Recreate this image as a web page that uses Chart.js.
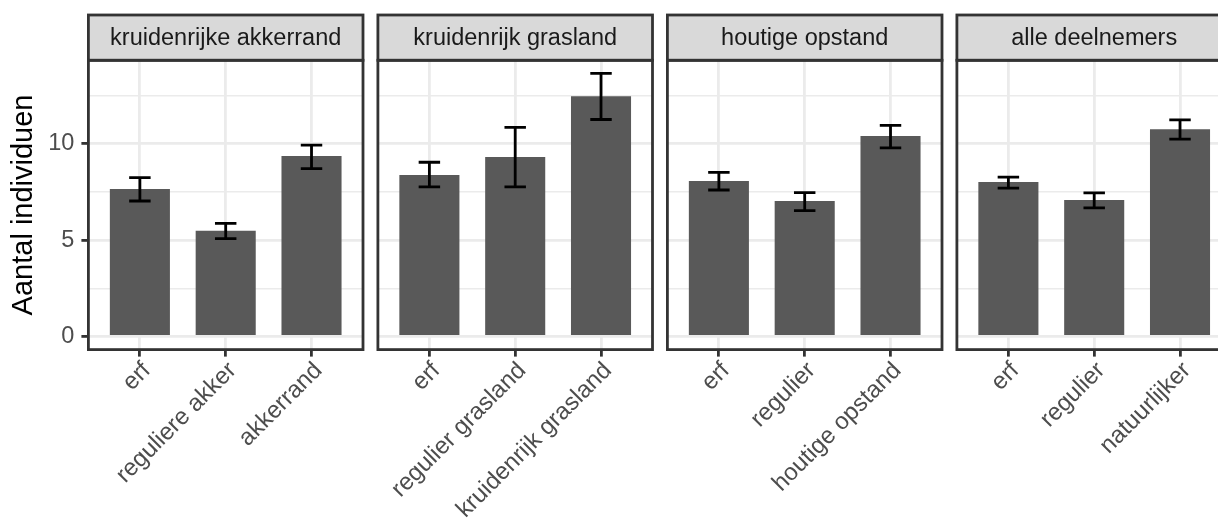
<!DOCTYPE html>
<html>
<head>
<meta charset="utf-8">
<script src="https://cdn.jsdelivr.net/npm/chart.js@4"></script>
<style>
  html, body { margin: 0; padding: 0; background: #fff; }
  #wrap { position: relative; width: 1218px; height: 521px; overflow: hidden; background: #fff; }
  #wrap canvas { position: absolute; top: 0; }
</style>
</head>
<body>
<div id="wrap"></div>
<script>
// facetten en categorieën
const facets = ['kruidenrijke akkerrand', 'kruidenrijk grasland', 'houtige opstand', 'alle deelnemers'];
const categories = [
    ['erf', 'reguliere akker', 'akkerrand'],
    ['erf', 'regulier grasland', 'kruidenrijk grasland'],
    ['erf', 'regulier', 'houtige opstand'],
    ['erf', 'regulier', 'natuurlijker']
];
const means = [[7.65, 5.48, 9.36], [8.38, 9.31, 12.47], [8.07, 7.03, 10.40], [8.02, 7.08, 10.76]];
const lower = [[7.03, 5.08, 8.71], [7.76, 7.76, 11.26], [7.60, 6.53, 9.79], [7.70, 6.67, 10.24]];
const upper = [[8.24, 5.87, 9.93], [9.04, 10.85, 13.65], [8.52, 7.46, 10.95], [8.27, 7.45, 11.24]];
const yTicks = [0, 2.5, 5, 7.5, 10, 12.5];
const yTitle = 'Aantal individuen';

const FONT = "'Liberation Sans', Arial, Helvetica, sans-serif";
const H = 521;
const panelLeft0 = 88.4, panelPitch = 289.5, panelWidth = 274.6;
const panelTop = 60.3, panelBottom = 349.6, stripTop = 15;
const LINE = 2.8;

// ggplot-achtige expansie van 5%
const dataMax = Math.max(...upper.flat());
const yMin = -0.05 * dataMax, yMax = dataMax * 1.05;

const facetPlugin = {
    id: 'facet',
    afterDatasetsDraw(chart, args, opts) {
        const p = opts.index;
        const xs = chart.scales.x, ys = chart.scales.y;
        const half = (xs.getPixelForValue(1) - xs.getPixelForValue(0)) * 0.125;
        const ctx = chart.ctx;
        ctx.save();
        ctx.strokeStyle = '#000';
        ctx.lineWidth = LINE;
        lower[p].forEach((lo, i) => {
            const x = xs.getPixelForValue(i);
            const yl = ys.getPixelForValue(lo), yu = ys.getPixelForValue(upper[p][i]);
            ctx.beginPath();
            ctx.moveTo(x, yl); ctx.lineTo(x, yu);
            ctx.moveTo(x - half, yl); ctx.lineTo(x + half, yl);
            ctx.moveTo(x - half, yu); ctx.lineTo(x + half, yu);
            ctx.stroke();
        });
        ctx.restore();
    },
    afterDraw(chart, args, opts) {
        const { ctx, chartArea: a } = chart;
        const w = a.right - a.left;
        ctx.save();
        ctx.fillStyle = '#d9d9d9';
        ctx.fillRect(a.left, stripTop, w, a.top - stripTop);
        ctx.strokeStyle = '#333333';
        ctx.lineWidth = LINE;
        ctx.strokeRect(a.left, stripTop, w, a.top - stripTop);
        ctx.strokeRect(a.left, a.top, w, a.bottom - a.top);
        ctx.fillStyle = '#1a1a1a';
        ctx.font = '23.5px ' + FONT;
        ctx.textAlign = 'center';
        ctx.textBaseline = 'middle';
        ctx.fillText(facets[opts.index], a.left + w / 2, (stripTop + a.top) / 2 + 1);
        ctx.restore();
    }
};

function makeChart(p) {
    const first = p === 0;
    const pl = panelLeft0 + p * panelPitch;
    const canvasLeft = first ? 0 : Math.floor(pl - 4);
    const canvasW = Math.ceil(pl + panelWidth + 4) - canvasLeft;
    const padLeft = first ? 0 : pl - canvasLeft;
    const padRight = canvasW - (pl + panelWidth - canvasLeft);

    const canvas = document.createElement('canvas');
    canvas.width = canvasW;
    canvas.height = H;
    canvas.style.left = canvasLeft + 'px';
    document.getElementById('wrap').appendChild(canvas);

    const isMajor = ctx => ctx.tick && ctx.tick.value % 5 === 0;

    new Chart(canvas.getContext('2d'), {
        type: 'bar',
        data: {
            datasets: [{
                data: means[p].map((v, i) => ({ x: i, y: v })),
                backgroundColor: '#595959',
                borderWidth: 0,
                barPercentage: 0.7,
                categoryPercentage: 1.0
            }]
        },
        options: {
            responsive: false,
            animation: false,
            events: [],
            layout: { autoPadding: false, padding: { left: padLeft, right: padRight, top: panelTop, bottom: 0 } },
            plugins: {
                legend: { display: false },
                tooltip: { enabled: false },
                facet: { index: p }
            },
            scales: {
                x: {
                    type: 'linear',
                    min: -0.6,
                    max: 2.6,
                    offset: false,
                    afterBuildTicks: s => { s.ticks = categories[p].map((c, i) => ({ value: i })); },
                    afterFit: s => { s.height = H - panelBottom; },
                    border: { display: false },
                    grid: { color: '#ebebeb', lineWidth: LINE, offset: false, drawTicks: true, tickLength: 7, tickWidth: LINE, tickColor: '#333333' },
                    ticks: {
                        autoSkip: false,
                        minRotation: 45,
                        maxRotation: 45,
                        padding: 0,
                        labelOffset: 7,
                        color: '#4d4d4d',
                        font: { family: FONT, size: 24 },
                        callback: v => categories[p][v]
                    }
                },
                y: {
                    min: yMin,
                    max: yMax,
                    afterBuildTicks: s => { s.ticks = yTicks.map(v => ({ value: v })); },
                    afterFit: s => { s.width = first ? panelLeft0 : 0; },
                    border: { display: false },
                    grid: {
                        color: '#ebebeb',
                        lineWidth: ctx => isMajor(ctx) ? LINE : LINE / 2,
                        drawTicks: first,
                        tickLength: 7,
                        tickWidth: LINE,
                        tickColor: ctx => isMajor(ctx) ? '#333333' : 'rgba(0,0,0,0)'
                    },
                    ticks: {
                        display: first,
                        padding: 7,
                        color: '#4d4d4d',
                        font: { family: FONT, size: 23.5 },
                        callback: v => v % 5 === 0 ? String(v) : ''
                    },
                    title: {
                        display: first,
                        text: yTitle,
                        color: '#000',
                        font: { family: FONT, size: 29 },
                        padding: { top: 7, bottom: 0 }
                    }
                }
            }
        },
        plugins: [facetPlugin]
    });
}

facets.forEach((f, p) => makeChart(p));
</script>
</body>
</html>
